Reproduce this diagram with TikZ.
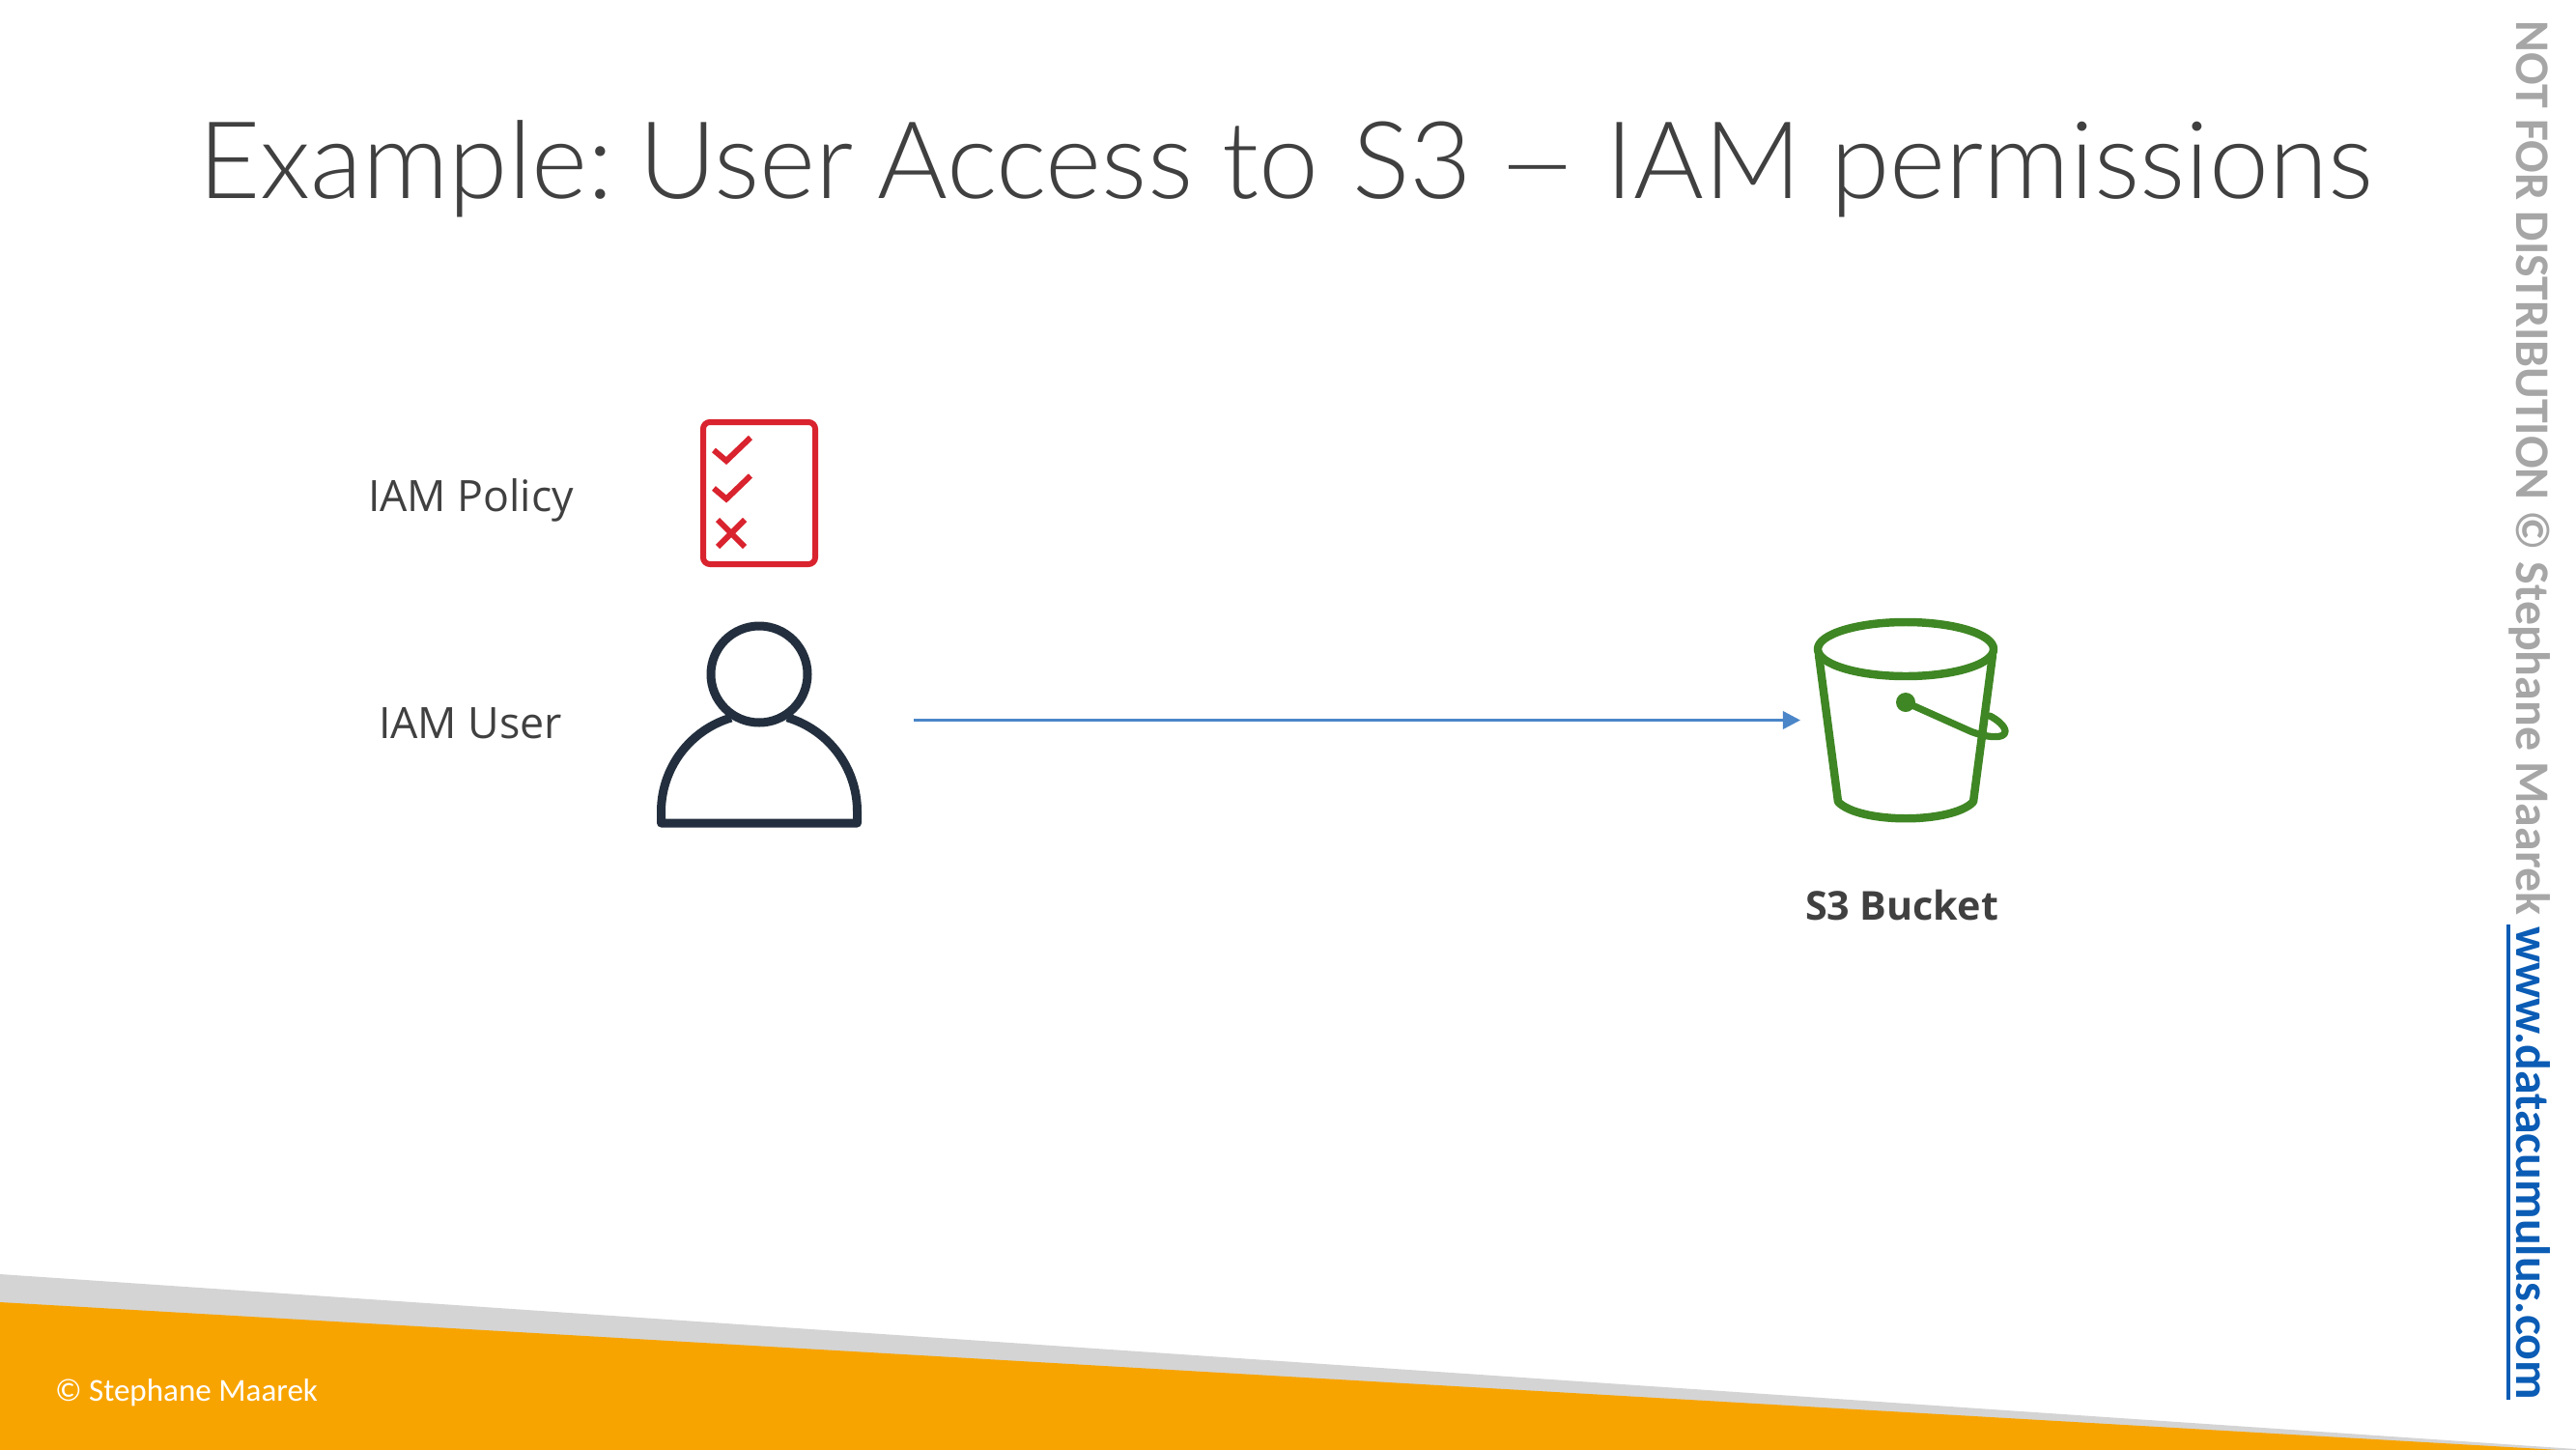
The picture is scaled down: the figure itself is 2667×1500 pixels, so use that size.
\documentclass[tikz,border=0pt]{standalone}
\usepackage{fontspec}
\usepackage{graphicx}
\usetikzlibrary{arrows.meta}
\setmainfont{Open Sans}
\newfontfamily\titlefont{Lato Light}
\newfontfamily\callb{Carlito}
\definecolor{titlegray}{HTML}{404040}
\definecolor{labelgray}{HTML}{404040}
\definecolor{barorange}{HTML}{F8A400}
\definecolor{bargray}{HTML}{D4D4D4}
\definecolor{policyred}{HTML}{D9232E}
\definecolor{userdark}{HTML}{232F3E}
\definecolor{bucketgreen}{HTML}{3F8624}
\definecolor{arrowblue}{HTML}{4A86C8}
\definecolor{sidegray}{HTML}{A6A6A6}
\definecolor{linkblue}{HTML}{0B5CB5}
\newcommand{\fitw}[2]{\resizebox{\dimexpr 0.36bp*#1\relax}{!}{#2}}
\begin{document}
\begin{tikzpicture}[x=0.36bp,y=-0.36bp,
  txt/.style={inner sep=0pt,outer sep=0pt,anchor=base west},
  policyline/.style={draw=policyred,line width=2.16bp,line join=miter},
  userline/.style={draw=userdark,line width=3.24bp,line join=round},
  bucketline/.style={draw=bucketgreen,line width=3.05bp,line join=round,line cap=round},
  flow/.style={draw=arrowblue,line width=1.2bp,-{Triangle[length=6.5bp,width=6.5bp]}}]
\useasboundingbox (0,0) rectangle (2667,1500);
\fill[white] (0,0) rectangle (2667,1500);
% footer
\fill[bargray] (0,1319) -- (2667,1500) -- (2667,1510) -- (0,1510) -- cycle;
\fill[barorange] (0,1348) -- (2667,1502) -- (2667,1510) -- (0,1510) -- cycle;
\node[txt,text=white] (copy) at (57,1450) {\fitw{272}{\callb © Stephane Maarek}};
% title
\node[txt,text=titlegray] (title) at (205,205) {\fitw{2252}{\titlefont Example:\kern-1.3pt{} User\kern-0.5pt{} Access to\kern0.4pt{} S3\kern-0.5pt{} \scalebox{1.35}[1]{–}\kern-0.3pt{} IAM permissions}};
% labels
\node[txt,text=labelgray] (policylabel) at (381,529) {\fitw{213}{IAM Policy}};
\node[txt,text=labelgray] (userlabel) at (392,764) {\fitw{190}{IAM User}};
\node[txt,text=labelgray] (bucketlabel) at (1869,952) {\fitw{200}{\bfseries S3 Bucket}};
% policy icon
\draw[policyline,rounded corners=2.5bp] (728,437) rectangle (844,584);
\draw[policyline] (739,466) -- (752,477) -- (777,453);
\draw[policyline] (739,505.5) -- (752,516.5) -- (777,492.5);
\draw[policyline] (743,538) -- (771,566);
\draw[policyline] (771,538) -- (743,566);
% user icon
\draw[userline] (786,698) circle (50);
\draw[userline] (757,743) arc (253.4:180:101.5) -- (684.5,852) -- (887.5,852) -- (887.5,840) arc (360:286.6:101.5) -- (815,743);
% bucket icon
\draw[bucketline] (1973,672) ellipse (91 and 28);
\draw[bucketline] (1883,678) -- (1903,830) .. controls (1925,853) and (2021,853) .. (2043,830) -- (2063,678);
\fill[bucketgreen] (1973,727) circle (10);
\draw[bucketline,line width=2.6bp] (1973,727) -- (2040,757) .. controls (2055,763) and (2076,766) .. (2076,757) .. controls (2076,752) and (2068,745) .. (2060,741);
% arrow
\coordinate (arrowfrom) at (946,745.5);
\coordinate (arrowto) at (1864,745.5);
\draw[flow] (arrowfrom) -- (arrowto);
% side text
\node[txt,text=sidegray,rotate=-90] (side) at (2605,22) {\fitw{925}{\callb\bfseries NOT FOR DISTRIBUTION © Stephane Maarek}};
\node[txt,text=linkblue,rotate=-90] (link) at (2605,959) {\fitw{490}{\callb\bfseries www.datacumulus.com}};
\fill[linkblue] (2595,957) rectangle (2599,1449);
\end{tikzpicture}
\end{document}
